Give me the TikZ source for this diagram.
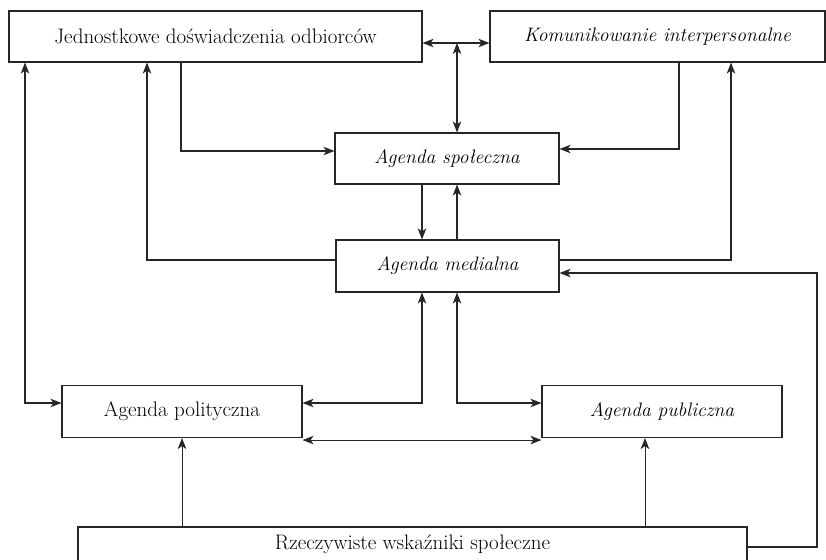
\documentclass[tikz,border=0pt]{standalone}
\usetikzlibrary{arrows.meta,calc}
\begin{document}
\begin{tikzpicture}[x=1pt,y=-1pt,
  box/.style={draw=black!85,line width=1.1pt,rectangle,inner sep=0pt,anchor=center,
    font=\fontsize{21}{24}\selectfont},
  ibox/.style={box,font=\fontsize{19.5}{23}\selectfont\itshape},
  conn/.style={line width=1.1pt,draw=black!85,
    arrows={-Stealth[length=11pt,width=8.5pt,inset=3pt]}},
  both/.style={conn,arrows={Stealth[length=11pt,width=8.5pt,inset=3pt]-Stealth[length=11pt,width=8.5pt,inset=3pt]}},
  thin/.style={conn,line width=0.7pt}]
\useasboundingbox (0,0) rectangle (826,559);
\clip (0,0) rectangle (826,559);
% boxes
\node[box,minimum width=413pt,minimum height=51pt] (J) at (215.5,36.5) {Jednostkowe doświadczenia odbiorców};
\node[ibox,minimum width=335pt,minimum height=51pt] (K) at (657.5,36.5) {Komunikowanie interpersonalne};
\node[ibox,minimum width=224pt,minimum height=51pt] (AS) at (447,158.5) {Agenda społeczna};
\node[ibox,minimum width=223pt,minimum height=52pt] (AM) at (447.5,266) {Agenda medialna};
\node[box,minimum width=240pt,minimum height=52pt] (AP) at (182,411.5) {Agenda polityczna};
\node[ibox,minimum width=240pt,minimum height=52pt] (APu) at (662,411.5) {Agenda publiczna};
\node[box,minimum width=669pt,minimum height=34pt] (Rz) at (412.5,544) {Rzeczywiste wskaźniki społeczne};
% helper coordinates
\coordinate (jk) at (457,43);
\coordinate (xa) at (25,0);
\coordinate (xb) at (147,0);
\coordinate (xc) at (181,0);
\coordinate (xd) at (422,0);
\coordinate (xe) at (457,0);
\coordinate (xf) at (679,0);
\coordinate (xg) at (731,0);
\coordinate (xh) at (817,0);
\coordinate (xi) at (182,0);
\coordinate (xj) at (645,0);
% top connectors
\draw[both] ([yshift=-6.5pt]J.east) -- ([yshift=-6.5pt]K.west);
\draw[both] (jk) -- (jk |- AS.north);
\draw[conn] (J.south -| xc) |- ([yshift=7.5pt]AS.west);
\draw[conn] (K.south -| xf) |- ([yshift=9.5pt]AS.east);
\draw[conn] (AS.south -| xd) -- (AM.north -| xd);
\draw[conn] (AM.north -| xe) -- (AS.south -| xe);
\draw[conn] ([yshift=6pt]AM.west) -| (J.south -| xb);
\draw[conn] ([yshift=6pt]AM.east) -| (K.south -| xg);
\draw[conn] ([yshift=-3pt]Rz.east) -| ([yshift=-7pt]AM.east -| xh) -- ([yshift=-7pt]AM.east);
% lower connectors
\draw[both] (J.south -| xa) |- ([yshift=8.5pt]AP.west);
\draw[both] (AM.south -| xd) |- ([yshift=8.5pt]AP.east);
\draw[both] (AM.south -| xe) |- ([yshift=8.5pt]APu.west);
\draw[both] ([yshift=-2pt]AP.south east) -- ([yshift=-2pt]APu.south west);
\draw[thin] (Rz.north -| xi) -- (AP.south -| xi);
\draw[thin] (Rz.north -| xj) -- (APu.south -| xj);
\end{tikzpicture}
\end{document}
